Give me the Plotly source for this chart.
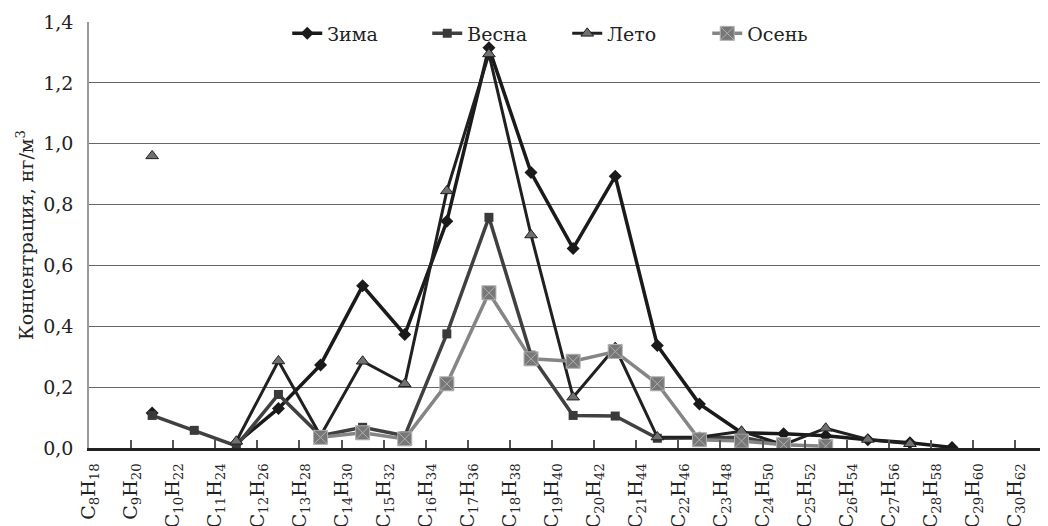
import numpy as np
import plotly.graph_objects as go

# Tick labels (alkanes C8H18 ... C30H62)
tick_labels = [
    "C<sub>8</sub>H<sub>18</sub>", "C<sub>9</sub>H<sub>20</sub>", "C<sub>10</sub>H<sub>22</sub>",
    "C<sub>11</sub>H<sub>24</sub>", "C<sub>12</sub>H<sub>26</sub>", "C<sub>13</sub>H<sub>28</sub>",
    "C<sub>14</sub>H<sub>30</sub>", "C<sub>15</sub>H<sub>32</sub>", "C<sub>16</sub>H<sub>34</sub>",
    "C<sub>17</sub>H<sub>36</sub>", "C<sub>18</sub>H<sub>38</sub>", "C<sub>19</sub>H<sub>40</sub>",
    "C<sub>20</sub>H<sub>42</sub>", "C<sub>21</sub>H<sub>44</sub>", "C<sub>22</sub>H<sub>46</sub>",
    "C<sub>23</sub>H<sub>48</sub>", "C<sub>24</sub>H<sub>50</sub>", "C<sub>25</sub>H<sub>52</sub>",
    "C<sub>26</sub>H<sub>54</sub>", "C<sub>27</sub>H<sub>56</sub>", "C<sub>28</sub>H<sub>58</sub>",
    "C<sub>29</sub>H<sub>60</sub>", "C<sub>30</sub>H<sub>62</sub>",
]

# Series values (ng/m3), one per data slot
zima  = [0.115, None, 0.015, 0.13, 0.273, 0.533, 0.373, 0.745, 1.315, 0.905, 0.656, 0.893,
         0.337, 0.145, 0.05, 0.047, 0.04, 0.027, 0.017, 0.002]
vesna = [0.107, 0.058, 0.007, 0.176, 0.04, 0.068, 0.04, 0.375, 0.758, 0.305, 0.107, 0.105,
         0.032, 0.033, 0.035, 0.01, None, None, None, None]
leto  = [0.96, None, 0.022, 0.286, 0.04, 0.285, 0.211, 0.845, 1.295, 0.70, 0.167, 0.33,
         0.036, 0.035, 0.055, 0.011, 0.065, 0.028, 0.014, None]
osen  = [None, None, None, None, 0.035, 0.05, 0.03, 0.211, 0.51, 0.293, 0.285, 0.317,
         0.211, 0.027, 0.023, 0.011, 0.006, None, None, None]

y_ticks = [0.0, 0.2, 0.4, 0.6, 0.8, 1.0, 1.2, 1.4]
y_tick_text = ["0,0", "0,2", "0,4", "0,6", "0,8", "1,0", "1,2", "1,4"]

x_pos = np.arange(len(zima)) + 1.5  # points sit between category ticks

FONT = "DejaVu Serif"
TXT = "#222222"
fig = go.Figure()

fig.add_trace(go.Scatter(
    x=x_pos, y=zima, name="Зима", mode="lines+markers",
    line=dict(color="#1a1a1a", width=3.5),
    marker=dict(symbol="diamond", size=10, color="#1a1a1a"),
))
fig.add_trace(go.Scatter(
    x=x_pos, y=vesna, name="Весна", mode="lines+markers",
    line=dict(color="#404040", width=3.5),
    marker=dict(symbol="square", size=9, color="#3a3a3a"),
))
fig.add_trace(go.Scatter(
    x=x_pos, y=leto, name="Лето", mode="lines+markers",
    line=dict(color="#202020", width=3),
    marker=dict(symbol="triangle-up", size=11, color="#707070",
                line=dict(color="#202020", width=1)),
))
fig.add_trace(go.Scatter(
    x=x_pos, y=osen, name="Осень", mode="lines+markers",
    line=dict(color="#858585", width=3.5),
    marker=dict(symbol="square-x", size=14, color="#777777",
                line=dict(color="#b0b0b0", width=1)),
))

# the page body adds an 8px offset, so margins are trimmed to compensate
fig.update_layout(
    width=1048, height=526,
    margin=dict(l=81, r=0, t=14, b=86),
    paper_bgcolor="white", plot_bgcolor="white",
    font=dict(family=FONT, size=19, color=TXT),
    showlegend=True,
    legend=dict(
        orientation="h", x=0.205, xanchor="left", y=0.973, yanchor="middle",
        bgcolor="rgba(0,0,0,0)", font=dict(family=FONT, size=19, color=TXT),
        entrywidth=95, entrywidthmode="pixels", itemclick=False,
    ),
    xaxis=dict(
        range=[0, 22.97], showgrid=False, zeroline=False, automargin=False,
        tickmode="array", tickvals=list(range(len(tick_labels))), ticktext=tick_labels,
        tickangle=-90, ticks="inside", ticklen=8, tickwidth=1.5, tickcolor="#555555",
        showline=True, linecolor="#222222", linewidth=2.5,
        tickfont=dict(family=FONT, size=19, color=TXT),
        ticklabelstandoff=5,
    ),
    yaxis=dict(
        range=[0, 1.4], tickmode="array", tickvals=y_ticks, ticktext=y_tick_text,
        showgrid=True, gridcolor="#666666", gridwidth=1.3, zeroline=False, automargin=False,
        showline=True, linecolor="#999999", linewidth=1.5,
        ticks="", ticklabelstandoff=10,
        tickfont=dict(family=FONT, size=19, color=TXT),
        title=dict(text="Концентрация, нг/м<sup>3</sup>", standoff=5,
                   font=dict(family=FONT, size=19, color=TXT)),
    ),
)

fig.write_html("out.html")
